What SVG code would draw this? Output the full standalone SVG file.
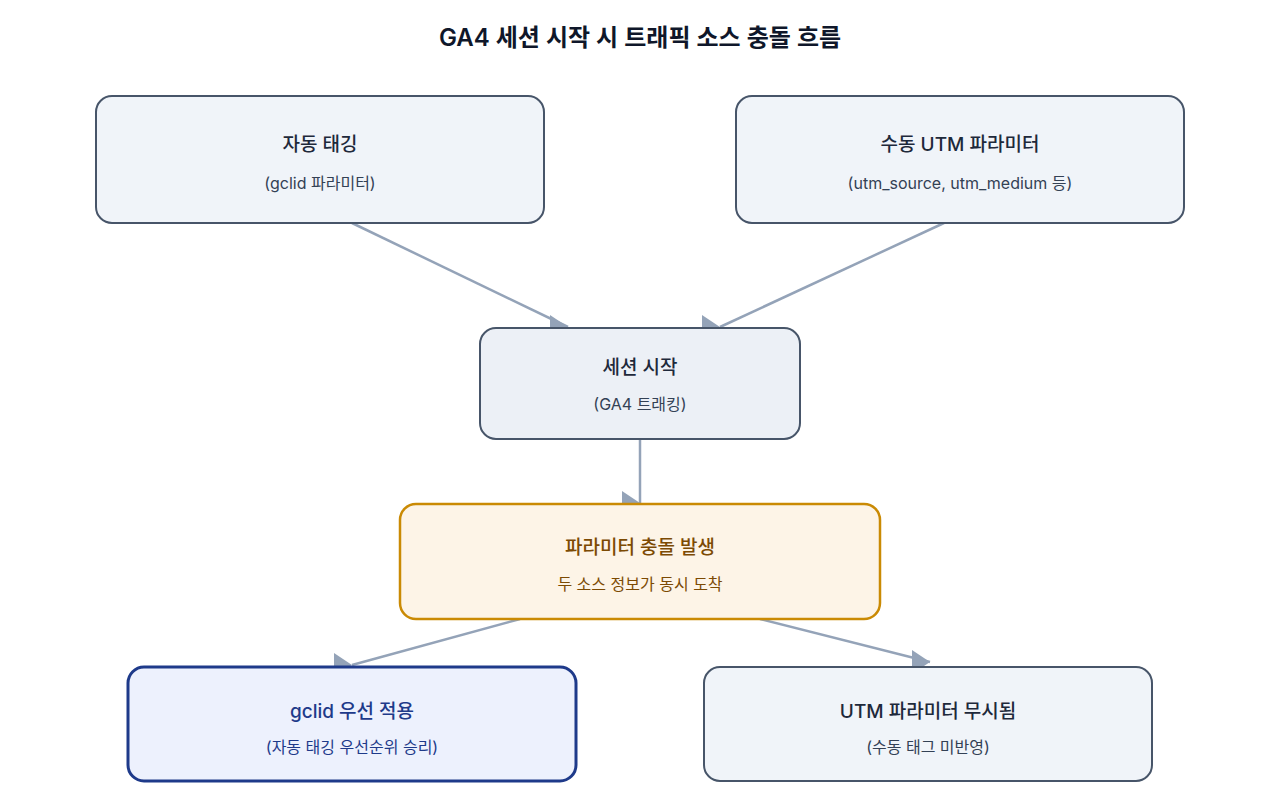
<svg xmlns="http://www.w3.org/2000/svg" width="1280" height="800" viewBox="0 0 1280 800">
<style>
text{font-family:Inter,"Noto Sans CJK KR",sans-serif;text-anchor:middle}
.n{fill:#f0f4f9;stroke:#475569;stroke-width:2}
.t{font-size:19px;fill:#1e293b;font-weight:500}
.s{font-size:16px;fill:#334155}
.e{stroke:#94a3b8;stroke-width:2.5;fill:none;marker-end:url(#a)}
</style>
<defs><marker id="a" markerUnits="userSpaceOnUse" markerWidth="20" markerHeight="24" refX="18" refY="12" viewBox="0 0 20 24"><path d="M0,0 L18,12 L0,24 z" fill="#94a3b8"/></marker></defs>
<rect width="1280" height="800" fill="#fff"/>
<text x="640" y="46" style="font-size:24px;font-weight:600;fill:#0f172a">GA4 세션 시작 시 트래픽 소스 충돌 흐름</text>
<g id="edges">
<line class="e" x1="352" y1="223" x2="568" y2="327"/>
<line class="e" x1="944" y1="223" x2="720" y2="327"/>
<line class="e" x1="640" y1="439" x2="640" y2="503"/>
<line class="e" x1="520" y1="619" x2="352" y2="665"/>
<line class="e" x1="760" y1="619" x2="930" y2="662"/>
</g>
<g id="n1"><rect class="n" x="96" y="96" width="448" height="127" rx="16"/><text class="t" x="320" y="151">자동 태깅</text><text class="s" x="320" y="189">(gclid 파라미터)</text></g>
<g id="n2"><rect class="n" x="736" y="96" width="448" height="127" rx="16"/><text class="t" x="960" y="151">수동 UTM 파라미터</text><text class="s" x="960" y="189">(utm_source, utm_medium 등)</text></g>
<g id="n3"><rect class="n" x="480" y="328" width="320" height="111" rx="16" style="fill:#ecf0f6"/><text class="t" x="640" y="374">세션 시작</text><text class="s" x="640" y="410">(GA4 트래킹)</text></g>
<g id="n4"><rect class="n" x="400" y="504" width="480" height="115" rx="16" style="fill:#fdf4e7;stroke:#ca8a04;stroke-width:2.5"/><text class="t" x="640" y="554" style="fill:#7c4a03">파라미터 충돌 발생</text><text class="s" x="640" y="590" style="fill:#7c4a03">두 소스 정보가 동시 도착</text></g>
<g id="n5"><rect class="n" x="128" y="667" width="448" height="114" rx="16" style="fill:#edf1fd;stroke:#1e3a8a;stroke-width:3"/><text class="t" x="352" y="718" style="fill:#1e3a8a">gclid 우선 적용</text><text class="s" x="352" y="753" style="fill:#1e3a8a">(자동 태깅 우선순위 승리)</text></g>
<g id="n6"><rect class="n" x="704" y="667" width="448" height="114" rx="16"/><text class="t" x="928" y="718">UTM 파라미터 무시됨</text><text class="s" x="928" y="753">(수동 태그 미반영)</text></g>
</svg>
